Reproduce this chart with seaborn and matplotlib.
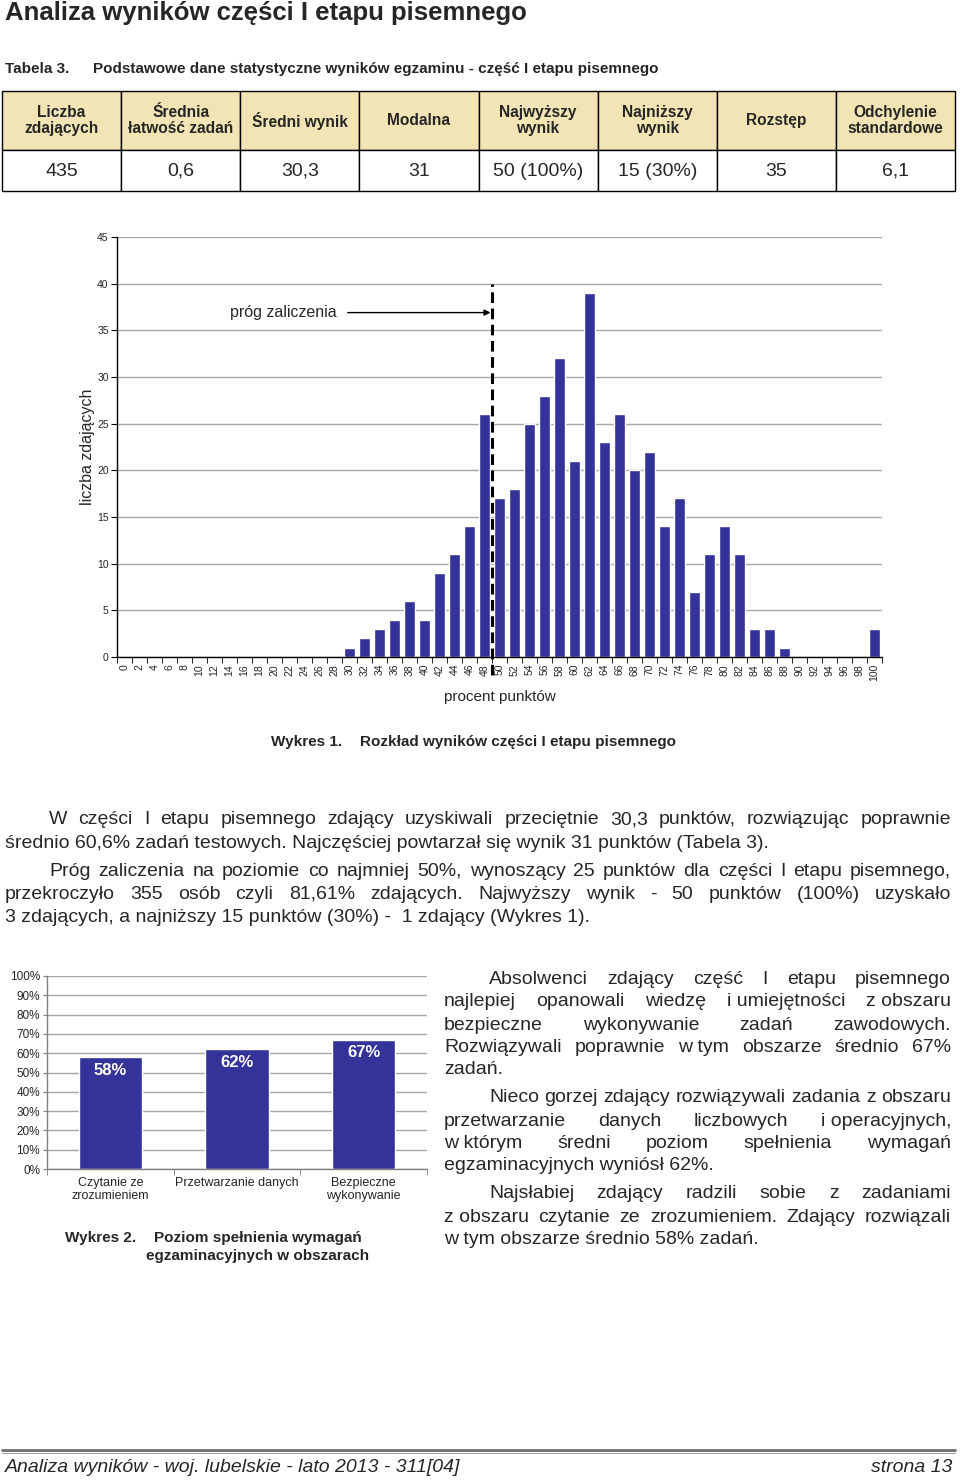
import numpy as np
import matplotlib
matplotlib.use("Agg")
import matplotlib.pyplot as plt
from matplotlib.patches import Rectangle
from matplotlib.lines import Line2D
from matplotlib.ticker import PercentFormatter
import seaborn as sns

## Data read from the page
table_headers = ["Liczba\nzdających", "Średnia\nłatwość zadań", "Średni wynik", "Modalna",
                 "Najwyższy\nwynik", "Najniższy\nwynik", "Rozstęp", "Odchylenie\nstandardowe"]
table_values = ["435", "0,6", "30,3", "31", "50 (100%)", "15 (30%)", "35", "6,1"]

percent_bins = ["0", "2", "4", "6", "8", "10", "12", "14", "16", "18", "20", "22", "24", "26", "28",
                "30", "32", "34", "36", "38", "40", "42", "44", "46", "48", "50", "52", "54", "56", "58",
                "60", "62", "64", "66", "68", "70", "72", "74", "76", "78", "80", "82", "84", "86", "88",
                "90", "92", "94", "96", "98", "100"]
counts = [0, 0, 0, 0, 0, 0, 0, 0, 0, 0, 0, 0, 0, 0, 0,
          1, 2, 3, 4, 6, 4, 9, 11, 14, 26, 17, 18, 25, 28, 32,
          21, 39, 23, 26, 20, 22, 14, 17, 7, 11, 14, 11, 3, 3, 1,
          0, 0, 0, 0, 0, 3]
threshold_bin = 24.5   # between "48" and "50"

area_names = ["Czytanie ze\nzrozumieniem", "Przetwarzanie danych", "Bezpieczne\nwykonywanie"]
area_values = [58, 62, 67]

## Text of the page
left_lines = [
    "W części I etapu pisemnego zdający uzyskiwali przeciętnie 30,3 punktów, rozwiązując poprawnie",
    "średnio 60,6% zadań testowych. Najczęściej powtarzał się wynik 31 punktów (Tabela 3).",
    "Próg zaliczenia na poziomie co najmniej 50%, wynoszący 25 punktów dla części I etapu pisemnego,",
    "przekroczyło 355 osób czyli 81,61% zdających. Najwyższy wynik - 50 punktów (100%) uzyskało",
    "3 zdających, a najniższy 15 punktów (30%) -  1 zdający (Wykres 1).",
]
right_lines = [
    "Absolwenci zdający część I etapu pisemnego",
    "najlepiej opanowali wiedzę i\u00a0umiejętności z\u00a0obszaru",
    "bezpieczne wykonywanie zadań zawodowych.",
    "Rozwiązywali poprawnie w\u00a0tym obszarze średnio 67%",
    "zadań.",
    "Nieco gorzej zdający rozwiązywali zadania z obszaru",
    "przetwarzanie danych liczbowych i\u00a0operacyjnych,",
    "w\u00a0którym średni poziom spełnienia wymagań",
    "egzaminacyjnych wyniósł 62%.",
    "Najsłabiej zdający radzili sobie z zadaniami",
    "z\u00a0obszaru czytanie ze zrozumieniem. Zdający rozwiązali",
    "w tym obszarze średnio 58% zadań.",
]

## Layout (pixels of a 960x1480 page)
W, H = 960, 1480
BAR = "#333399"
HEAD = "#F2E4B4"
GRID = "#A6A6A6"

sns.set_style("white")
plt.rcParams["font.family"] = ["Liberation Sans", "DejaVu Sans"]

fig = plt.figure(figsize=(9.6, 14.8), dpi=100, facecolor="white")
renderer = fig.canvas.get_renderer()


def fx(x):
    return x / W


def fy(y):
    return 1 - y / H


def ax_at(left, top, right, bottom):
    return fig.add_axes([fx(left), fy(bottom), (right - left) / W, (bottom - top) / H])


def text_line(s, x0, y, x1=None, **kw):
    # one line of text, justified between x0 and x1 if x1 is given
    if x1 is None:
        fig.text(fx(x0), fy(y), s, va="center", ha="left", **kw)
        return
    words = s.split(" ")
    arts = [fig.text(fx(x0), fy(y), w, va="center", ha="left", **kw) for w in words]
    widths = [a.get_window_extent(renderer).width for a in arts]
    gap = (x1 - x0 - sum(widths)) / (len(words) - 1)
    x = x0
    for a, w in zip(arts, widths):
        a.set_x(fx(x))
        x += w + gap


# title + table caption
fig.text(fx(5), fy(13), "Analiza wyników części I etapu pisemnego", fontsize=18.5,
         fontweight="bold", va="center")
fig.text(fx(5), fy(69), "Tabela 3.", fontsize=11, fontweight="bold", va="center")
fig.text(fx(93), fy(69), "Podstawowe dane statystyczne wyników egzaminu - część I etapu pisemnego",
         fontsize=11, fontweight="bold", va="center")

# table
tax = ax_at(2, 91, 955, 191)
tax.set_xlim(0, 8)
tax.set_ylim(1, 0)
tax.axis("off")
head_h = 0.59
for i, (h, v) in enumerate(zip(table_headers, table_values)):
    tax.add_patch(Rectangle((i, 0), 1, head_h, facecolor=HEAD, edgecolor="black", lw=1, clip_on=False))
    tax.add_patch(Rectangle((i, head_h), 1, 1 - head_h, facecolor="white", edgecolor="black", lw=1,
                            clip_on=False))
    tax.text(i + 0.5, head_h / 2, h, ha="center", va="center", fontsize=11.2, fontweight="bold",
             linespacing=1.1)
    tax.text(i + 0.5, (1 + head_h) / 2 + 0.01, v, ha="center", va="center", fontsize=14)

# histogram (Wykres 1)
hax = ax_at(117, 237, 882, 657)
sns.barplot(x=percent_bins, y=counts, order=percent_bins, color=BAR, saturation=1, width=0.76, ax=hax)
hax.set_xlim(-0.5, len(percent_bins) - 0.5)
hax.set_ylim(0, 45)
hax.set_yticks(range(0, 46, 5))
hax.yaxis.grid(True, color=GRID, lw=1)
hax.set_axisbelow(True)
sns.despine(ax=hax)
for s in ["left", "bottom"]:
    hax.spines[s].set_color("black")
    hax.spines[s].set_linewidth(1)
hax.tick_params(axis="y", left=True, length=4, color="black", labelsize=7.5, pad=2)
hax.tick_params(axis="x", which="major", length=0, labelsize=7.5, labelrotation=90, pad=5)
hax.set_xticks(np.arange(-0.5, len(percent_bins), 1), minor=True)
hax.tick_params(axis="x", which="minor", bottom=True, length=4, color="black")
hax.set_ylabel("liczba zdających", fontsize=11.5)
hax.yaxis.set_label_coords(-0.029, 0.5)
hax.set_xlabel("procent punktów", fontsize=11)
hax.xaxis.set_label_coords(0.5, -0.079)
hax.plot([threshold_bin, threshold_bin], [-1.9, 40], color="black", lw=2.2,
         ls=(0, (3.5, 1.8)), clip_on=False)
hax.annotate("próg zaliczenia", xy=(threshold_bin, 36.9), xytext=(-189, 0),
             textcoords="offset points", ha="left", va="center", fontsize=11.5,
             arrowprops=dict(arrowstyle="-|>", color="black", lw=1, mutation_scale=9,
                             shrinkA=6, shrinkB=1))

fig.text(fx(271), fy(742), "Wykres 1.", fontsize=11, fontweight="bold", va="center")
fig.text(fx(360), fy(742), "Rozkład wyników części I etapu pisemnego", fontsize=11,
         fontweight="bold", va="center")

# paragraphs under chart 1
left_x0 = [49, 5, 49, 5, 5]
left_y = [820, 843, 871, 894, 917]
left_just = [True, False, True, True, False]
for s, x0, y, j in zip(left_lines, left_x0, left_y, left_just):
    text_line(s, x0, y, 951 if j else None, fontsize=14)

# bar chart (Wykres 2)
bax = ax_at(47, 976, 427, 1169)
sns.barplot(x=area_names, y=area_values, color=BAR, saturation=1, width=0.5, ax=bax)
bax.set_xlim(-0.5, len(area_names) - 0.5)
bax.set_ylim(0, 100)
bax.set_yticks(range(0, 101, 10))
bax.yaxis.set_major_formatter(PercentFormatter(xmax=100, decimals=0))
bax.yaxis.grid(True, color=GRID, lw=1)
bax.set_axisbelow(True)
sns.despine(ax=bax)
for s in ["left", "bottom"]:
    bax.spines[s].set_color("#808080")
    bax.spines[s].set_linewidth(1)
bax.tick_params(axis="y", left=True, length=3, color="#808080", labelsize=8.5, pad=2)
bax.tick_params(axis="x", which="major", length=0, labelsize=9, pad=6)
bax.set_xticks(np.arange(-0.5, len(area_names), 1), minor=True)
bax.tick_params(axis="x", which="minor", bottom=True, length=4, color="#808080")
bax.set_xlabel("")
bax.set_ylabel("")
for lab in bax.get_xticklabels():
    lab.set_linespacing(1.05)
for i, v in enumerate(area_values):
    bax.annotate(f"{v}%", (i, v), xytext=(0, -9.5), textcoords="offset points", ha="center",
                 va="center", color="white", fontsize=12, fontweight="bold")

fig.text(fx(65), fy(1238), "Wykres 2.", fontsize=11, fontweight="bold", va="center")
fig.text(fx(154), fy(1238), "Poziom spełnienia wymagań", fontsize=11, fontweight="bold", va="center")
fig.text(fx(146), fy(1256), "egzaminacyjnych w obszarach", fontsize=11, fontweight="bold", va="center")

# right column
right_y = [980, 1002, 1025, 1047, 1070, 1098, 1121, 1144, 1166, 1194, 1217, 1240]
right_x0 = [489, 444, 444, 444, 444, 489, 444, 444, 444, 489, 444, 444]
right_just = [True, True, True, True, False, True, True, True, False, True, True, False]
for s, x0, y, j in zip(right_lines, right_x0, right_y, right_just):
    text_line(s, x0, y, 951 if j else None, fontsize=14)

# footer
fig.add_artist(Line2D([fx(2), fx(955)], [fy(1449.5)] * 2, color="#6E6E6E", lw=2))
fig.add_artist(Line2D([fx(2), fx(955)], [fy(1452.5)] * 2, color="#A0A0A0", lw=0.8))
fig.text(fx(5), fy(1468), "Analiza wyników - woj. lubelskie - lato 2013 - 311[04]", fontsize=14,
         fontstyle="italic", va="center")
fig.text(fx(952), fy(1468), "strona 13", fontsize=14, fontstyle="italic", va="center", ha="right")

fig.savefig("out.png", dpi=100, facecolor="white")
